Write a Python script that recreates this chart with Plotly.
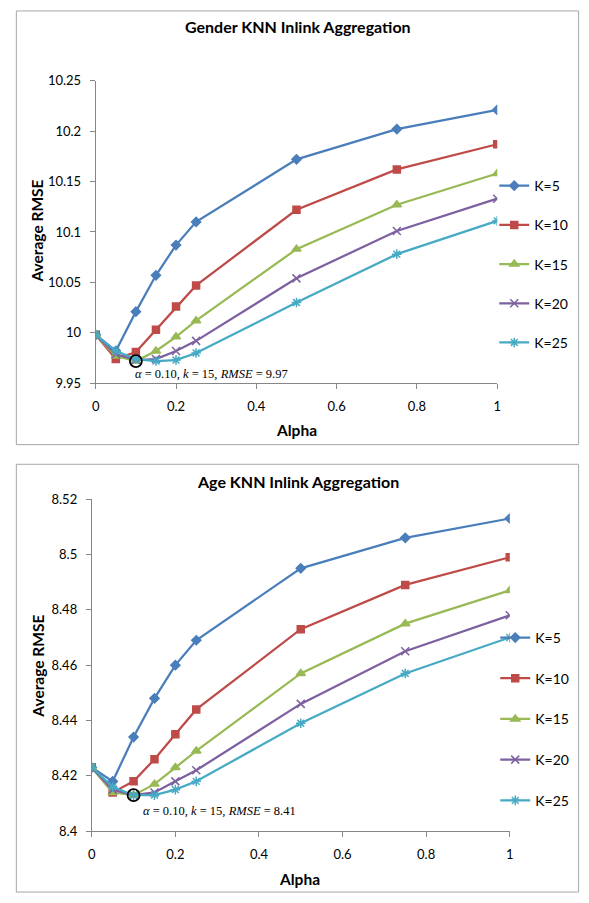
import plotly.graph_objects as go

W, H = 589, 903

alpha = [0, 0.05, 0.1, 0.15, 0.2, 0.25, 0.5, 0.75, 1]
series_names = ["K=5", "K=10", "K=15", "K=20", "K=25"]

gender_k5 = [9.998, 9.982, 10.021, 10.057, 10.087, 10.110, 10.172, 10.202, 10.221]
gender_k10 = [9.998, 9.974, 9.981, 10.003, 10.026, 10.047, 10.122, 10.162, 10.187]
gender_k15 = [9.998, 9.977, 9.972, 9.982, 9.996, 10.012, 10.083, 10.127, 10.158]
gender_k20 = [9.998, 9.979, 9.973, 9.974, 9.982, 9.992, 10.054, 10.101, 10.133]
gender_k25 = [9.998, 9.982, 9.974, 9.972, 9.973, 9.980, 10.030, 10.078, 10.111]

age_k5 = [8.423, 8.418, 8.434, 8.448, 8.460, 8.469, 8.495, 8.506, 8.513]
age_k10 = [8.423, 8.414, 8.418, 8.426, 8.435, 8.444, 8.473, 8.489, 8.499]
age_k15 = [8.423, 8.414, 8.413, 8.417, 8.423, 8.429, 8.457, 8.475, 8.487]
age_k20 = [8.423, 8.415, 8.413, 8.414, 8.418, 8.422, 8.446, 8.465, 8.478]
age_k25 = [8.423, 8.416, 8.413, 8.413, 8.415, 8.418, 8.439, 8.457, 8.470]

x_tickvals = [0, 0.2, 0.4, 0.6, 0.8, 1]
x_ticktext = ["0", "0.2", "0.4", "0.6", "0.8", "1"]
gender_tickvals = [9.95, 10.0, 10.05, 10.1, 10.15, 10.2, 10.25]
gender_ticktext = ["9.95", "10", "10.05", "10.1", "10.15", "10.2", "10.25"]
age_tickvals = [8.40, 8.42, 8.44, 8.46, 8.48, 8.50, 8.52]
age_ticktext = ["8.4", "8.42", "8.44", "8.46", "8.48", "8.5", "8.52"]

best_gender = (0.10, 9.972, "<i>α</i> = 0.10, <i>k</i> = 15, <i>RMSE</i> = 9.97")
best_age = (0.10, 8.413, "<i>α</i> = 0.10, <i>k</i> = 15, <i>RMSE</i> = 8.41")

colors = ["#4A7EBB", "#BE4B48", "#98B954", "#7D60A0", "#46AAC5"]
symbols = ["diamond", "square", "triangle-up", "x-thin-open", "asterisk-open"]
msizes = [7, 7, 8, 8, 8]

FONT = "Lato, 'Open Sans', sans-serif"


def px_x(p):
    return p / W


def px_y(p):
    return 1 - p / H


fig = go.Figure()

gender = [gender_k5, gender_k10, gender_k15, gender_k20, gender_k25]
age = [age_k5, age_k10, age_k15, age_k20, age_k25]

for i, (name, ys) in enumerate(zip(series_names, gender)):
    fig.add_trace(go.Scatter(
        x=alpha, y=ys, name=name, mode="lines+markers",
        line=dict(color=colors[i], width=2.25),
        marker=dict(symbol=symbols[i], size=msizes[i], color=colors[i],
                    line=dict(color=colors[i], width=1.5)),
        xaxis="x", yaxis="y", legend="legend", legendgroup="g%d" % i,
    ))
for i, (name, ys) in enumerate(zip(series_names, age)):
    fig.add_trace(go.Scatter(
        x=alpha, y=ys, name=name, mode="lines+markers",
        line=dict(color=colors[i], width=2.25),
        marker=dict(symbol=symbols[i], size=msizes[i], color=colors[i],
                    line=dict(color=colors[i], width=1.5)),
        xaxis="x2", yaxis="y2", legend="legend2", legendgroup="a%d" % i,
    ))

axis_common = dict(
    showgrid=False, zeroline=False, showline=True, linecolor="#868686",
    linewidth=1, ticks="outside", ticklen=5, tickcolor="#868686",
    tickfont=dict(family=FONT, size=13, color="#000000"),
)

legend_font = dict(family=FONT, size=14, color="#000000")
legend_common = dict(
    font=legend_font, bgcolor="rgba(0,0,0,0)", traceorder="grouped",
    itemwidth=30, xanchor="left", yanchor="top",
)

fig.update_layout(
    width=W, height=H,
    margin=dict(l=0, r=0, t=0, b=0),
    paper_bgcolor="white", plot_bgcolor="white",
    xaxis=dict(domain=[px_x(93), px_x(500)], range=[0, 1], anchor="y",
               tickvals=x_tickvals, ticktext=x_ticktext, ticklabelstandoff=6,
               **axis_common),
    yaxis=dict(domain=[px_y(382), px_y(74)], range=[9.95, 10.25], anchor="x",
               tickvals=gender_tickvals, ticktext=gender_ticktext,
               ticklabelstandoff=6, **axis_common),
    xaxis2=dict(domain=[px_x(89), px_x(512.7)], range=[0, 1], anchor="y2",
                tickvals=x_tickvals, ticktext=x_ticktext, ticklabelstandoff=6,
                **axis_common),
    yaxis2=dict(domain=[px_y(838), px_y(500)], range=[8.40, 8.52], anchor="x2",
                tickvals=age_tickvals, ticktext=age_ticktext,
                ticklabelstandoff=6, **axis_common),
    legend=dict(x=px_x(497), y=px_y(165), tracegroupgap=18, **legend_common),
    legend2=dict(x=px_x(498), y=px_y(625), tracegroupgap=19.5, **legend_common),
    showlegend=True,
)

shapes = [
    dict(type="rect", xref="paper", yref="paper", x0=px_x(12.5), x1=px_x(582.5),
         y0=px_y(3), y1=px_y(444.5), line=dict(color="#A6A6A6", width=1)),
    dict(type="rect", xref="paper", yref="paper", x0=px_x(12.5), x1=px_x(582.5),
         y0=px_y(464.5), y1=px_y(900), line=dict(color="#A6A6A6", width=1)),
    dict(type="circle", xref="x", yref="y", xsizemode="pixel", ysizemode="pixel",
         xanchor=best_gender[0], yanchor=best_gender[1], x0=-6, x1=6, y0=-6, y1=6,
         line=dict(color="black", width=1.8)),
    dict(type="circle", xref="x2", yref="y2", xsizemode="pixel", ysizemode="pixel",
         xanchor=best_age[0], yanchor=best_age[1], x0=-6, x1=6, y0=-6, y1=6,
         line=dict(color="black", width=1.8)),
]
fig.update_layout(shapes=shapes)

bold = dict(family=FONT, size=16, color="#000000")
axis_title_font = dict(family=FONT, size=15.5, color="#000000")
anno_font = dict(family="'Liberation Serif', serif", size=12.5, color="#000000")


def label(text, x, y, angle=0, font=bold, xanchor="center"):
    return dict(text=text, x=px_x(x), y=px_y(y), xref="paper", yref="paper",
                showarrow=False, font=font, textangle=angle,
                xanchor=xanchor, yanchor="middle")


annotations = [
    label("<b>Gender KNN Inlink Aggregation</b>", 298, 19),
    label("<b>Age KNN Inlink Aggregation</b>", 298, 482),
    label("<b>Average RMSE</b>", 33, 227, angle=-90, font=axis_title_font),
    label("<b>Average RMSE</b>", 35, 670, angle=-90, font=axis_title_font),
    label("<b>Alpha</b>", 297, 430, font=axis_title_font),
    label("<b>Alpha</b>", 300, 887, font=axis_title_font),
    label(best_gender[2], 131, 373, font=anno_font, xanchor="left"),
    label(best_age[2], 139, 817, font=anno_font, xanchor="left"),
]
fig.update_layout(annotations=annotations)

fig.write_html("out.html", config={"displayModeBar": False},
               post_script="document.body.style.margin='0px';")
